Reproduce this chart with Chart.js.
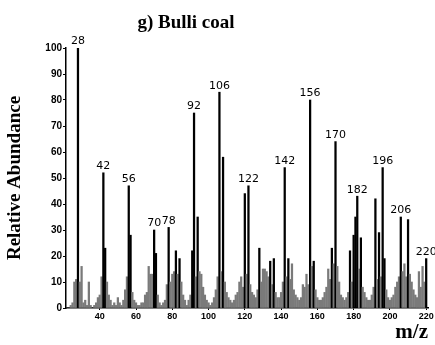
<!DOCTYPE html>
<html>
<head>
<meta charset="utf-8">
<script src="https://cdn.jsdelivr.net/npm/chart.js@4.4.1/dist/chart.umd.min.js"></script>
<style>
html, body { margin: 0; padding: 0; background: #fff; }
</style>
</head>
<body>
<canvas id="chart" width="435" height="345"></canvas>
<script>
var titleText = 'g) Bulli coal';
var yTitle = 'Relative Abundance';
var xTitle = 'm/z';

// m/z values (one bar each)
var masses = [
	22, 23, 24, 25, 26, 27, 28, 29, 30, 31, 32, 33, 34, 35, 36, 37, 38, 39, 40,
	41, 42, 43, 44, 45, 46, 47, 48, 49, 50, 51, 52, 53, 54, 55, 56, 57, 58, 59, 60,
	61, 62, 63, 64, 65, 66, 67, 68, 69, 70, 71, 72, 73, 74, 75, 76, 77, 78, 79, 80,
	81, 82, 83, 84, 85, 86, 87, 88, 89, 90, 91, 92, 93, 94, 95, 96, 97, 98, 99, 100,
	101, 102, 103, 104, 105, 106, 107, 108, 109, 110, 111, 112, 113, 114, 115, 116, 117, 118, 119, 120,
	121, 122, 123, 124, 125, 126, 127, 128, 129, 130, 131, 132, 133, 134, 135, 136, 137, 138, 139, 140,
	141, 142, 143, 144, 145, 146, 147, 148, 149, 150, 151, 152, 153, 154, 155, 156, 157, 158, 159, 160,
	161, 162, 163, 164, 165, 166, 167, 168, 169, 170, 171, 172, 173, 174, 175, 176, 177, 178, 179, 180,
	181, 182, 183, 184, 185, 186, 187, 188, 189, 190, 191, 192, 193, 194, 195, 196, 197, 198, 199, 200,
	201, 202, 203, 204, 205, 206, 207, 208, 209, 210, 211, 212, 213, 214, 215, 216, 217, 218, 219, 220
];

// relative abundance
var abundance = [
	0, 0, 1, 2, 10, 11, 100, 10, 16, 2, 3, 1, 10, 1, 0, 1, 2, 4, 5,
	12, 52, 23, 10, 5, 3, 1, 2, 1, 4, 2, 1, 3, 7, 12, 47, 28, 6, 3, 2,
	1, 1, 2, 2, 5, 6, 16, 13, 13, 30, 21, 5, 2, 1, 2, 3, 9, 31, 10, 13,
	14, 22, 13, 19, 10, 5, 3, 1, 3, 5, 22, 75, 12, 35, 14, 13, 8, 5, 3, 2,
	1, 2, 4, 7, 12, 83, 14, 58, 10, 6, 4, 3, 2, 3, 5, 6, 10, 12, 8, 44,
	13, 47, 9, 6, 5, 4, 7, 23, 10, 15, 15, 14, 12, 18, 9, 19, 6, 4, 4, 6,
	10, 54, 12, 19, 11, 17, 7, 5, 4, 3, 4, 9, 8, 13, 9, 80, 16, 18, 7, 4,
	3, 3, 4, 6, 8, 15, 11, 23, 17, 64, 16, 10, 5, 4, 3, 4, 6, 22, 10, 28,
	35, 43, 15, 27, 8, 6, 4, 3, 3, 5, 8, 42, 11, 29, 12, 54, 19, 7, 4, 3,
	4, 5, 8, 10, 12, 35, 14, 17, 12, 34, 13, 10, 7, 5, 4, 14, 8, 16, 10, 19
];

var peakLabels = [28, 42, 56, 70, 78, 92, 106, 122, 142, 156, 170, 182, 196, 206, 220];
var xTickValues = [40, 60, 80, 100, 120, 140, 160, 180, 200, 220];

var peakLabelPlugin = {
	id: 'peakLabels',
	afterDatasetsDraw: function (chart) {
		var ctx = chart.ctx;
		var xs = chart.scales.x;
		var ys = chart.scales.y;
		ctx.save();
		ctx.fillStyle = '#000';
		ctx.textAlign = 'center';
		ctx.textBaseline = 'bottom';
		ctx.font = '11px "DejaVu Sans"';
		peakLabels.forEach(function (m) {
			var v = abundance[masses.indexOf(m)];
			ctx.fillText(String(m), xs.getPixelForValue(m), ys.getPixelForValue(v) - 1);
		});
		// title
		ctx.textBaseline = 'alphabetic';
		ctx.font = 'bold 19px "Liberation Serif"';
		ctx.fillText(titleText, 186, 28);
		ctx.restore();
	}
};

var ctx = document.getElementById('chart').getContext('2d');

var chart = new Chart(ctx, {
	type: 'bar',
	data: {
		datasets: [{
			label: 'Bulli coal',
			data: masses.map(function (m, i) { return { x: m, y: abundance[i] }; }),
			backgroundColor: function (c) {
				return c.raw && c.raw.y >= 18 ? '#000' : '#7a7a7a';
			},
			barThickness: 1.6
		}]
	},
	options: {
		responsive: false,
		animation: false,
		layout: { padding: { top: 48, right: 7, left: 0, bottom: 0 } },
		plugins: {
			legend: { display: false },
			tooltip: { enabled: false }
		},
		scales: {
			x: {
				type: 'linear',
				offset: false,
				min: 21.4,
				max: 221,
				afterBuildTicks: function (s) {
					s.ticks = xTickValues.map(function (v) { return { value: v }; });
				},
				afterFit: function (s) { s.height = 37; },
				grid: { offset: false, drawOnChartArea: false, drawTicks: true, tickLength: 2, color: '#000' },
				border: { color: '#000', width: 1.5 },
				ticks: {
					color: '#000',
					padding: 1,
					maxRotation: 0,
					autoSkip: false,
					font: { family: 'Liberation Sans', size: 9, weight: 'bold' }
				},
				title: {
					display: true,
					text: xTitle,
					align: 'end',
					color: '#000',
					padding: 0,
					font: { family: 'Liberation Serif', size: 21, weight: 'bold' }
				}
			},
			y: {
				min: 0,
				max: 100,
				afterFit: function (s) { s.width = 66; },
				grid: { drawOnChartArea: false, drawTicks: true, tickLength: 3, color: '#000' },
				border: { color: '#000', width: 1.5 },
				ticks: {
					stepSize: 10,
					color: '#000',
					padding: 1,
					font: { family: 'Liberation Sans', size: 10, weight: 'bold' }
				},
				title: {
					display: true,
					text: yTitle,
					color: '#000',
					padding: { top: 4, bottom: 0 },
					font: { family: 'Liberation Serif', size: 19, weight: 'bold' }
				}
			}
		}
	},
	plugins: [peakLabelPlugin]
});
</script>
</body>
</html>
